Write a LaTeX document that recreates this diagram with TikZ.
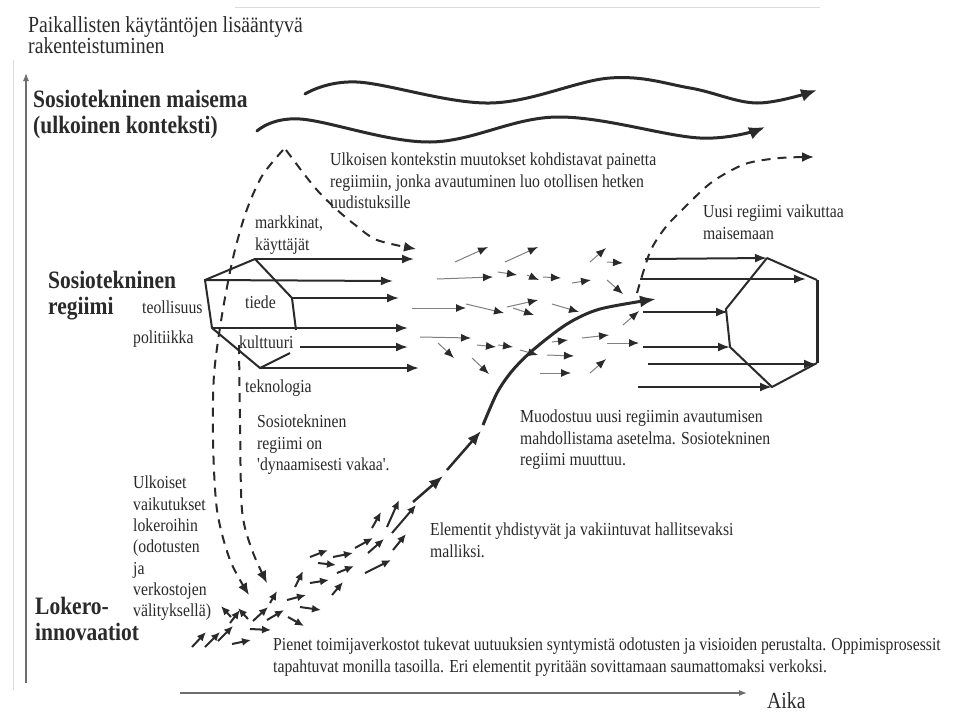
\documentclass[tikz,border=0pt]{standalone}
\usepackage{fontspec}
\setmainfont[FakeStretch=0.86,Ligatures=TeXOff]{Liberation Serif}
\usetikzlibrary{arrows.meta}
\definecolor{ink}{HTML}{2A2A2A}
\definecolor{axisgray}{HTML}{6E6E6E}
\definecolor{framegray}{HTML}{DADADA}
\begin{document}
\begin{tikzpicture}[x=1pt,y=-1pt,
  txt/.style={anchor=north west,inner sep=0pt,align=left,font=\fontsize{18.3}{21.3}\selectfont,text=ink},
  big/.style={anchor=north west,inner sep=0pt,align=left,font=\fontsize{25}{25.5}\selectfont\bfseries,text=ink},
  regarrow/.style={draw=ink,line width=2pt,-{Latex[length=12pt,width=9pt]}},
  regline/.style={draw=ink,line width=2pt,line join=miter},
  wave/.style={draw=ink,line width=3pt,line cap=round,-{Latex[length=16pt,width=13pt]}},
  dashcurve/.style={draw=ink,line width=2pt,dash pattern=on 9pt off 7pt,-{Latex[length=12pt,width=10pt]}},
  swarm/.style={draw=ink!60,line width=1pt,-{Latex[length=10pt,width=8pt,color=ink]}},
  niche/.style={draw=ink,line width=2pt,-{Latex[length=9pt,width=8pt]}},
  traj/.style={draw=ink,line width=3pt,-{Latex[length=16pt,width=12pt]}},
  axisline/.style={draw=axisgray,line width=1.2pt},
]
\fill[white] (0,0) rectangle (964,713);
\useasboundingbox (0,0) rectangle (964,713);

% faint frame
\draw[framegray,line width=1pt] (235,7) -- (820,7);
\draw[framegray,line width=1pt] (13,60) -- (13,690);

% axes
\coordinate (ybot) at (26,683);
\coordinate (ytop) at (26,73);
\draw[axisline,-{Latex[length=8pt,width=6pt]}] (ybot) -- (ytop);
\coordinate (xleft) at (180,693);
\coordinate (xright) at (747,693);
\draw[axisline,-{Latex[length=8pt,width=6pt]}] (xleft) -- (xright);
\node[txt,font=\fontsize{23}{23}\selectfont] (aika) at (767,692) {Aika};

% titles
\node[txt,font=\fontsize{23}{21.5}\selectfont] (title) at (28,16) {Paikallisten käytäntöjen lisääntyvä\\rakenteistuminen};
\node[big] (maisema) at (33,90) {Sosiotekninen maisema\\(ulkoinen konteksti)};
\node[big] (regiimi) at (48,271) {Sosiotekninen\\regiimi};
\node[big] (lokero) at (35,597) {Lokero-\\innovaatiot};

% waves
\draw[wave] plot[smooth,tension=0.6] coordinates {(305,94) (357,82) (490,103) (610,78) (690,88) (757,103) (817,90)};
\draw[wave] plot[smooth,tension=0.6] coordinates {(257,131) (300,119) (430,142) (557,117) (700,138) (765,127)};

% left regime polygon
\coordinate (LA) at (205,280);
\coordinate (LB) at (255,259);
\coordinate (LC) at (292,298);
\coordinate (LD) at (296,330);
\coordinate (LG) at (212,328);
\coordinate (LF) at (260,368);
\coordinate (LE) at (290,353);
\draw[regline] (LD) -- (LC) -- (LB) -- (LA) -- (LG) -- (LF) -- (LE);
\coordinate (L1) at (414,259);
\coordinate (L2) at (393,281);
\coordinate (L3) at (399,298);
\coordinate (L4) at (408,328);
\coordinate (L5s) at (300,347);
\coordinate (L5) at (408,347);
\coordinate (L6) at (419,368);
\draw[regarrow] (LB) -- (L1);
\draw[regarrow] (LA) -- (L2);
\draw[regarrow] (LC) -- (L3);
\draw[regarrow] (LG) -- (L4);
\draw[regarrow] (L5s) -- (L5);
\draw[regarrow] (LF) -- (L6);

% left regime labels
\node[txt] (markkinat) at (255,216) {markkinat,\\käyttäjät};
\node[txt] (teollisuus) at (142,301) {teollisuus};
\node[txt] (politiikka) at (133,331) {politiikka};
\node[txt] (tiede) at (245,296) {tiede};
\node[txt] (kulttuuri) at (239,336) {kulttuuri};
\node[txt] (teknologia) at (245,380) {teknologia};

% right regime polygon
\coordinate (R1) at (767,258);
\coordinate (R2) at (817,280);
\coordinate (R3) at (817,363);
\coordinate (R4) at (772,387);
\coordinate (R5) at (730,347);
\coordinate (R6) at (726,309);
\draw[regline] (R1) -- (R2);
\draw[draw=ink,line width=3pt] (R2) -- (R3);
\draw[regline] (R3) -- (R4) -- (R5) -- (R6) -- (R1);
\coordinate (S1) at (645,259);
\coordinate (S2) at (640,279);
\coordinate (E2) at (806,279);
\coordinate (S3) at (643,312);
\coordinate (E3) at (728,312);
\coordinate (S4) at (643,347);
\coordinate (S5) at (648,364);
\coordinate (E5) at (816,364);
\coordinate (S6) at (638,387);
\draw[regarrow] (S1) -- (R1);
\draw[regarrow] (S2) -- (E2);
\draw[regarrow] (S3) -- (E3);
\draw[regarrow] (S4) -- (R5);
\draw[regarrow] (S5) -- (E5);
\draw[regarrow] (S6) -- (R4);

% dashed curves
\draw[dashcurve] plot[smooth] coordinates {(286,150) (301,170) (317,190) (335,208) (354,224) (377,240) (416,249)};
\draw[dashcurve] plot[smooth] coordinates {(283,150) (262,176) (246,212) (233,258) (222,315) (214,375) (213,440) (217,510) (230,560) (249,595)};
\draw[dashcurve] plot[smooth] coordinates {(239,345) (240,420) (242,510) (252,550) (267,583)};
\draw[dashcurve] plot[smooth] coordinates {(637,293) (650,252) (665,228) (684,208) (712,182) (745,164) (780,158) (814,157)};

% middle swarm
\foreach \a/\b/\c/\d in {455/262/488/247, 505/262/538/247, 437/279/493/277, 498/272/517/275,
  527/275/539/280, 543/277/561/278, 572/283/591/280, 590/262/606/248, 607/262/623/263,
  607/280/623/294, 412/308/466/308, 466/304/504/313, 507/307/538/300, 513/308/534/315,
  552/304/579/312, 623/325/639/311, 420/337/471/338, 438/343/454/358, 477/345/496/347,
  498/345/513/347, 520/350/538/355, 552/342/568/340, 582/338/609/335, 607/343/639/343,
  472/358/489/374, 547/355/574/356, 540/373/571/373, 590/373/606/359}
  \draw[swarm] (\a,\b) -- (\c,\d);

% niche swarm
\foreach \a/\b/\c/\d in {192/647/206/632, 205/647/220/632, 218/641/233/626, 232/644/251/640,
  230/623/240/610, 231/617/221/606, 248/619/238/608, 250/629/271/630, 253/621/268/607,
  267/620/284/610, 287/600/306/595, 288/617/304/626, 300/607/321/610, 295/587/303/571,
  310/583/329/580, 332/595/343/582, 310/557/328/550, 318/563/336/565, 333/557/353/553,
  337/573/354/566, 355/548/373/538, 365/573/391/560, 368/553/384/539, 372/528/381/512,
  387/527/399/500, 392/533/416/505, 393/550/406/534, 270/603/277/591}
  \draw[niche] (\a,\b) -- (\c,\d);

% trajectory
\coordinate (T0) at (413,502);
\coordinate (T1) at (443,476);
\coordinate (T2s) at (447,470);
\coordinate (T2) at (481,431);
\draw[draw=ink,line width=2.5pt,-{Latex[length=14pt,width=11pt]}] (T0) -- (T1);
\draw[draw=ink,line width=2.5pt,-{Latex[length=14pt,width=11pt]}] (T2s) -- (T2);
\draw[traj] plot[smooth] coordinates {(483,425) (497,393) (512,371) (533,350) (567,324) (600,309) (656,299)};

% descriptive texts
\node[txt] (ulkoisen) at (330,153) {Ulkoisen kontekstin muutokset kohdistavat painetta\\regiimiin, jonka avautuminen luo otollisen hetken\\uudistuksille};
\node[txt] (uusi) at (703,205) {Uusi regiimi vaikuttaa\\maisemaan};
\node[txt] (vakaa) at (257,415) {Sosiotekninen\\regiimi on\\'dynaamisesti vakaa'.};
\node[txt] (muodostuu) at (520,410) {Muodostuu uusi regiimin avautumisen\\mahdollistama asetelma. Sosiotekninen\\regiimi muuttuu.};
\node[txt] (elementit) at (430,523) {Elementit yhdistyvät ja vakiintuvat hallitsevaksi\\malliksi.};
\node[txt] (ulkoiset) at (133,476) {Ulkoiset\\vaikutukset\\lokeroihin\\(odotusten\\ja\\verkostojen\\välityksellä)};
\node[txt] (pienet) at (273,638) {Pienet toimijaverkostot tukevat uutuuksien syntymistä odotusten ja visioiden perustalta. Oppimisprosessit\\tapahtuvat monilla tasoilla. Eri elementit pyritään sovittamaan saumattomaksi verkoksi.};
\end{tikzpicture}
\end{document}
